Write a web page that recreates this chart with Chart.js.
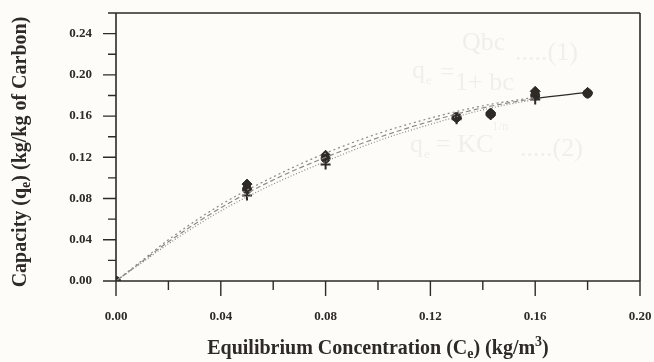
<!DOCTYPE html>
<html>
<head>
<meta charset="utf-8">
<script src="https://cdn.jsdelivr.net/npm/chart.js@4/dist/chart.umd.min.js"></script>
<style>
html,body{margin:0;padding:0;background:#fdfcf9;}
#wrap{width:654px;height:362px;position:relative;}
</style>
</head>
<body>
<div id="wrap"><canvas id="c" width="654" height="362"></canvas></div>
<script>
// ---- data ----
const expX      = [0, 0.05, 0.08, 0.13, 0.143, 0.16, 0.18];
const expDiamond= [0, 0.094, 0.122, 0.158, 0.163, 0.184, 0.183];
const expCircle = [0, 0.089, 0.119, 0.159, 0.162, 0.180, 0.182];
const expCross  = [0, 0.083, 0.113, 0.157, 0.161, 0.176, 0.182];

const fitX      = [0, 0.01, 0.02, 0.04, 0.06, 0.08, 0.10, 0.12, 0.14, 0.16, 0.18];
const fitUpper  = [0, 0.020, 0.040, 0.074, 0.101, 0.124, 0.143, 0.158, 0.170, 0.178, 0.183];
const fitMiddle = [0, 0.019, 0.038, 0.071, 0.098, 0.120, 0.139, 0.155, 0.168, 0.177, 0.183];
const fitLower  = [0, 0.018, 0.036, 0.068, 0.094, 0.116, 0.136, 0.152, 0.166, 0.176, 0.183];

const xTickLabels = ['0.00','0.04','0.08','0.12','0.16','0.20'];
const yTickLabels = ['0.00','0.04','0.08','0.12','0.16','0.20','0.24'];

const ink = '#2e2a26';
const curveInk = '#8e8984';
const serif = '"Liberation Serif","Times New Roman",serif';

const pts = (xs, ys) => xs.map((x, i) => ({x: x, y: ys[i]}));

function fitSet(ys, dash, tailColor) {
  return {
    type: 'line', data: pts(fitX, ys), borderColor: curveInk, borderWidth: 1.2,
    borderDash: dash, pointRadius: 0, tension: 0.4, cubicInterpolationMode: 'monotone',
    fill: false,
    segment: {
      borderColor: c => c.p0.parsed.x >= 0.159 ? tailColor : curveInk,
      borderDash: c => c.p0.parsed.x >= 0.159 ? [] : dash
    }
  };
}
function expSet(ys, style, r) {
  return {
    type: 'scatter', data: pts(expX, ys), pointStyle: style, pointRadius: r,
    backgroundColor: ink, borderColor: ink, borderWidth: style === 'cross' ? 2 : 1, showLine: false
  };
}

const frame = {
  id: 'frame',
  afterDraw(chart) {
    const ctx = chart.ctx, a = chart.chartArea;
    const xs = chart.scales.x, ys = chart.scales.y;
    ctx.save();
    ctx.strokeStyle = ink; ctx.lineWidth = 1.6;
    ctx.beginPath();
    ctx.moveTo(a.left, a.top); ctx.lineTo(a.right, a.top);
    ctx.moveTo(a.right, a.top); ctx.lineTo(a.right, a.bottom);
    ctx.moveTo(a.left, a.top); ctx.lineTo(a.left, a.bottom);
    ctx.moveTo(a.left, a.bottom); ctx.lineTo(a.right, a.bottom);
    ctx.stroke();
    ctx.lineWidth = 1.4;
    ctx.beginPath();
    xs.ticks.forEach(t => {
      const px = xs.getPixelForValue(t.value);
      const major = Math.round(t.value * 100) % 4 === 0;
      ctx.moveTo(px, a.bottom); ctx.lineTo(px, a.bottom + (major ? 15 : 9));
    });
    ys.ticks.forEach(t => {
      const py = ys.getPixelForValue(t.value);
      const major = Math.round(t.value * 100) % 4 === 0;
      ctx.moveTo(a.left, py); ctx.lineTo(a.left - (major ? 13 : 8), py);
    });
    ctx.stroke();

    // axis titles with sub/superscripts
    const big = 'bold 20px ' + serif, small = 'bold 14px ' + serif;
    function rich(parts) {
      let w = 0;
      parts.forEach(p => { ctx.font = p[1] ? small : big; w += ctx.measureText(p[0]).width; });
      return w;
    }
    function drawRich(parts, x0, y0) {
      let x = x0;
      parts.forEach(p => {
        ctx.font = p[1] ? small : big;
        const dy = p[1] === 'sub' ? 4 : (p[1] === 'sup' ? -8 : 0);
        ctx.fillText(p[0], x, y0 + dy);
        x += ctx.measureText(p[0]).width;
      });
    }
    ctx.fillStyle = ink; ctx.textBaseline = 'alphabetic'; ctx.textAlign = 'left';
    const xt = [['Equilibrium Concentration (C'], ['e','sub'], [') (kg/m'], ['3','sup'], [')']];
    const wx = rich(xt);
    drawRich(xt, 378 - wx / 2, 354);

    const yt = [['Capacity (q'], ['e','sub'], [') (kg/kg of Carbon)']];
    const wy = rich(yt);
    ctx.translate(26, 152);
    ctx.rotate(-Math.PI / 2);
    drawRich(yt, -wy / 2, 0);
    ctx.restore();
  },
  beforeDraw(chart) {
    const ctx = chart.ctx;
    ctx.save();
    ctx.fillStyle = '#fdfcf9';
    ctx.fillRect(0, 0, chart.width, chart.height);
    // faint show-through text from the back of the page
    ctx.fillStyle = '#f0efeb';
    ctx.font = '26px ' + serif;
    ctx.fillText('Qbc', 462, 50);
    ctx.fillText('q', 412, 78);
    ctx.font = '13px ' + serif;
    ctx.fillText('e', 426, 84);
    ctx.font = '26px ' + serif;
    ctx.fillText('=', 440, 80);
    ctx.fillText('.....(1)', 515, 60);
    ctx.fillText('1+ bc', 455, 90);
    ctx.fillText('q', 410, 152);
    ctx.font = '13px ' + serif;
    ctx.fillText('e', 424, 158);
    ctx.fillText('1/n', 492, 130);
    ctx.font = '26px ' + serif;
    ctx.fillText('= KC', 436, 152);
    ctx.fillText('.....(2)', 520, 156);
    ctx.restore();
  }
};

new Chart(document.getElementById('c'), {
  data: {
    datasets: [
      fitSet(fitUpper, [2, 3], 'rgba(0,0,0,0)'),
      fitSet(fitMiddle, [5, 3], ink),
      fitSet(fitLower, [1, 2], 'rgba(0,0,0,0)'),
      expSet(expCross, 'cross', 5),
      expSet(expCircle, 'circle', 4.5),
      expSet(expDiamond, 'rectRot', 5)
    ]
  },
  options: {
    responsive: false,
    animation: false,
    devicePixelRatio: 1,
    layout: { padding: { top: 13, right: 14, left: 0, bottom: 0 } },
    plugins: { legend: { display: false }, tooltip: { enabled: false } },
    scales: {
      x: {
        type: 'linear', min: 0, max: 0.20,
        afterFit: s => { s.height = 81; s.paddingLeft = 0; s.paddingRight = 0; },
        grid: { display: false, drawTicks: false },
        border: { display: false },
        ticks: {
          stepSize: 0.02, padding: 28, color: ink, maxRotation: 0, autoSkip: false,
          font: { family: serif, size: 13, weight: 'bold' },
          callback: v => { const k = Math.round(v * 100); return k % 4 === 0 ? xTickLabels[k / 4] : ''; }
        }
      },
      y: {
        type: 'linear', min: 0, max: 0.26,
        afterFit: s => { s.width = 116; s.paddingTop = 0; s.paddingBottom = 0; },
        grid: { display: false, drawTicks: false },
        border: { display: false },
        ticks: {
          stepSize: 0.02, padding: 24, color: ink, autoSkip: false,
          font: { family: serif, size: 13, weight: 'bold' },
          callback: v => { const k = Math.round(v * 100); return (k % 4 === 0 && k / 4 < yTickLabels.length) ? yTickLabels[k / 4] : ''; }
        }
      }
    }
  },
  plugins: [frame]
});
</script>
</body>
</html>
